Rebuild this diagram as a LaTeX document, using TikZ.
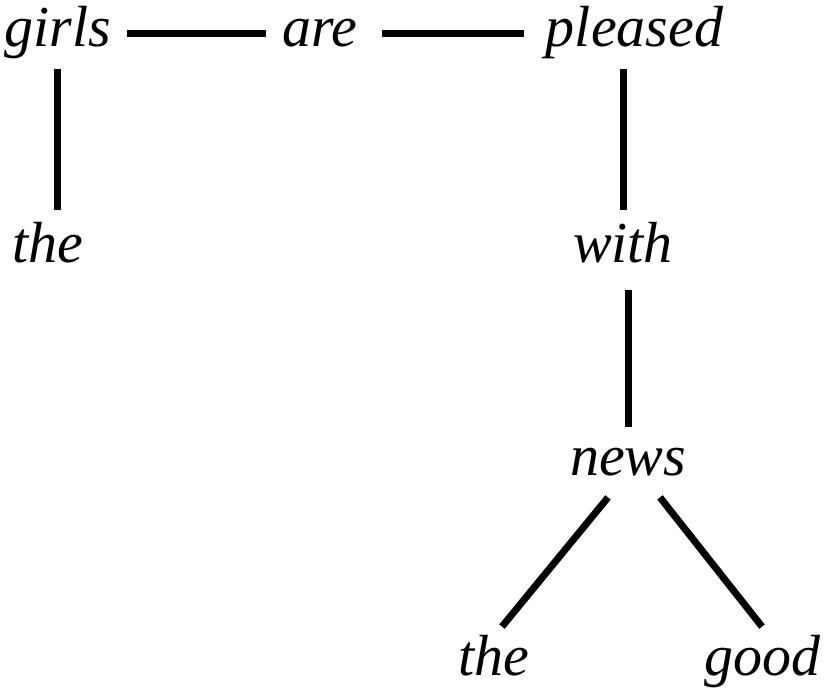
\documentclass[tikz,border=0pt]{standalone}
\usepackage{fontspec}
\setmainfont{Liberation Serif}
\usetikzlibrary{positioning}
\begin{document}
\begin{tikzpicture}
\tikzstyle{word}=[font=\itshape\fontsize{29}{34}\selectfont, text height=22pt, text depth=9pt, inner xsep=8pt, inner ysep=2pt, on grid]
\tikzstyle{link}=[line width=3.5pt]
\useasboundingbox (-28.75pt,17pt) rectangle (385.25pt,-327.5pt);
  \node[word] (girls) {girls};
  \node[word] (are) [right=131.25pt of girls] {are};
  \node[word] (pleased) [right=157.25pt of are] {pleased};
  \node[word] (the1) [below left=108pt and 5pt of girls] {the};
  \node[word] (with) [below left=108pt and 5.75pt of pleased] {with};
  \node[word] (news) [below right=106pt and 2.5pt of with] {news};
  \node[word] (the2) [below left=100pt and 67pt of news] {the};
  \node[word] (good) [below right=100pt and 67pt of news] {good};
  \path[link] (girls) edge (are)
           (are) edge[shorten <=4pt, shorten >=3pt] (pleased)
           (girls.south) edge[shorten >=2.5pt] (girls.south |- the1.north)
           (with.north |- pleased.south) edge[shorten >=2.5pt] (with.north)
           (news.north |- with.south) edge[shorten <=2.5pt] (news.north)
           ([xshift=-10pt]news.south) edge ([xshift=4pt]the2.north)
           ([xshift=16pt]news.south) edge (good.north)
           ;
\end{tikzpicture}
\end{document}
